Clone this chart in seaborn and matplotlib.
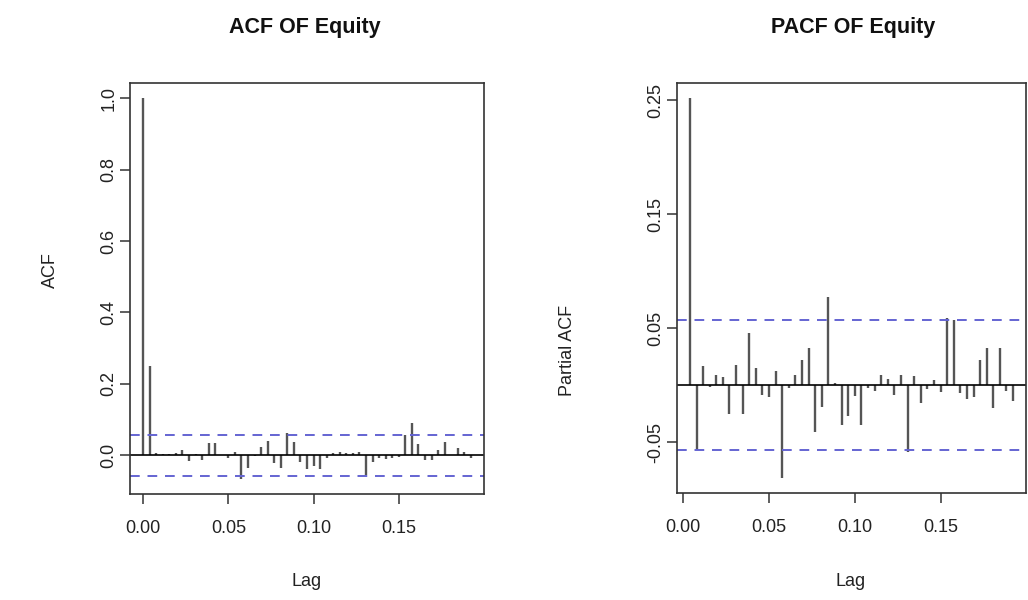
import numpy as np
import pandas as pd
import matplotlib
matplotlib.use("Agg")
import matplotlib.pyplot as plt
import seaborn as sns

# ---- data ----
freq = 260
acf_values = [1.0, 0.25, 0.006, 0.004, 0.004, 0.006, 0.014, -0.015, 0.004, -0.014,
              0.033, 0.035, 0.002, -0.007, 0.008, -0.066, -0.037, -0.003, 0.024, 0.041,
              -0.021, -0.035, 0.063, 0.037, -0.018, -0.038, -0.029, -0.040, -0.009, 0.005,
              0.009, 0.005, 0.006, 0.009, -0.056, -0.019, -0.008, -0.011, -0.007, -0.004,
              0.056, 0.090, 0.031, -0.014, -0.014, 0.016, 0.037, 0.002, 0.019, 0.009,
              -0.007]
pacf_values = [0.252, -0.057, 0.017, -0.0015, 0.009, 0.0076, -0.025, 0.018, -0.025, 0.046,
               0.015, -0.008, -0.010, 0.013, -0.081, -0.002, 0.009, 0.022, 0.033, -0.041,
               -0.019, 0.078, 0.0026, -0.035, -0.027, -0.009, -0.0345, -0.0023, -0.0047, 0.0088,
               0.006, -0.008, 0.009, -0.058, 0.008, -0.015, -0.003, 0.0044, -0.006, 0.059,
               0.057, -0.007, -0.012, -0.010, 0.022, 0.033, -0.020, 0.033, -0.005, -0.014]
conf_limit = 0.057
x_ticks = [0.00, 0.05, 0.10, 0.15]
x_tick_labels = ["0.00", "0.05", "0.10", "0.15"]
acf_y_ticks = [0.0, 0.2, 0.4, 0.6, 0.8, 1.0]
acf_y_labels = ["0.0", "0.2", "0.4", "0.6", "0.8", "1.0"]
pacf_y_ticks = [-0.05, 0.05, 0.15, 0.25]
pacf_y_labels = ["-0.05", "0.05", "0.15", "0.25"]
titles = ["ACF OF Equity", "PACF OF Equity"]
y_labels = ["ACF", "Partial ACF"]
x_label = "Lag"

acf_df = pd.DataFrame({"lag": np.arange(len(acf_values)) / freq, "value": acf_values})
pacf_df = pd.DataFrame({"lag": np.arange(1, len(pacf_values) + 1) / freq, "value": pacf_values})

sns.set_style("white")
plt.rcParams["font.family"] = ["Liberation Sans", "DejaVu Sans"]

fig = plt.figure(figsize=(10.28, 6.0), dpi=100)
W, H = 1028, 600
ax1 = fig.add_axes([130 / W, 1 - 494 / H, 354 / W, 411 / H])
ax2 = fig.add_axes([677 / W, 1 - 493 / H, 349 / W, 410 / H])

bar_color = "#555555"
dash_color = "#6464d2"

def draw(ax, df, yticks, ylabels):
    ax.vlines(df["lag"], 0, df["value"], color=bar_color, linewidth=1.7)
    ax.axhline(0, color="black", linewidth=1.2)
    ax.axhline(conf_limit, color=dash_color, linewidth=1.4, linestyle=(0, (5, 4)))
    ax.axhline(-conf_limit, color=dash_color, linewidth=1.4, linestyle=(0, (5, 4)))
    x0, x1 = df["lag"].min(), df["lag"].max()
    lo = min(df["value"].min(), -conf_limit)
    hi = max(df["value"].max(), conf_limit)
    dx, dy = 0.04 * (x1 - x0), 0.04 * (hi - lo)
    ax.set_xlim(x0 - dx, x1 + dx)
    ax.set_ylim(lo - dy, hi + dy)
    ax.set_xticks(x_ticks)
    ax.set_xticklabels(x_tick_labels)
    ax.set_yticks(yticks)
    ax.set_yticklabels(ylabels, rotation=90, va="center")
    ax.tick_params(axis="both", which="major", direction="out", length=7, width=1.1,
                   color="#333333", labelsize=13, labelcolor="#222222",
                   bottom=True, left=True, top=False, right=False)
    ax.tick_params(axis="x", pad=12)
    ax.tick_params(axis="y", pad=2)
    for s in ax.spines.values():
        s.set_visible(True)
        s.set_color("#333333")
        s.set_linewidth(1.2)
    ax.set_facecolor("white")

draw(ax1, acf_df, acf_y_ticks, acf_y_labels)
draw(ax2, pacf_df, pacf_y_ticks, pacf_y_labels)

fig.text(305 / W, 1 - 27 / H, titles[0], ha="center", va="center", fontsize=15.5,
         fontweight="bold", color="#111111")
fig.text(853 / W, 1 - 27 / H, titles[1], ha="center", va="center", fontsize=15.5,
         fontweight="bold", color="#111111")
fig.text(50 / W, 1 - 270 / H, y_labels[0], ha="center", va="center", rotation=90,
         fontsize=13, color="#222222")
fig.text(568 / W, 1 - 350 / H, y_labels[1], ha="center", va="center", rotation=90,
         fontsize=13, color="#222222")
fig.text(307 / W, 1 - 582 / H, x_label, ha="center", va="center", fontsize=13, color="#222222")
fig.text(851 / W, 1 - 582 / H, x_label, ha="center", va="center", fontsize=13, color="#222222")

fig.savefig("out.png", dpi=100, facecolor="white")
